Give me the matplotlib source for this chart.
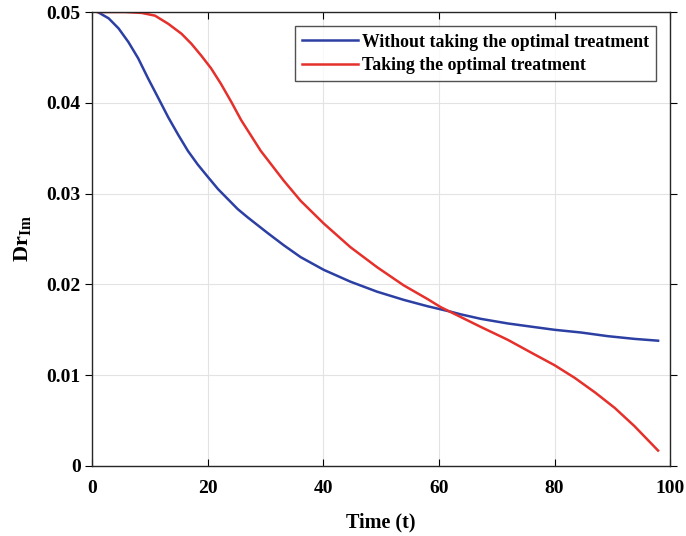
import numpy as np
import matplotlib.pyplot as plt

plt.rcParams['font.family'] = ['Liberation Serif', 'DejaVu Serif']
plt.rcParams['font.weight'] = 'bold'
plt.rcParams['mathtext.fontset'] = 'custom'
plt.rcParams['mathtext.rm'] = 'Liberation Serif:bold'
plt.rcParams['mathtext.it'] = 'Liberation Serif:bold'
plt.rcParams['mathtext.bf'] = 'Liberation Serif:bold'

# values
t_blue = [1.0, 2.9, 4.6, 6.3, 8.0, 9.7, 11.5, 13.2, 14.9, 16.6, 18.3, 20.1,
          21.8, 23.5, 25.2, 26.9, 28.7, 30.3, 33.2, 36.1, 40.1, 44.7, 49.3,
          53.9, 58.0, 62.0, 63.8, 67.3, 71.9, 76.5, 80.0, 84.6, 89.2, 93.8, 97.9]
dr_without = [0.0500, 0.0493, 0.0482, 0.0467, 0.0449, 0.0427, 0.0405, 0.0384,
              0.0365, 0.0347, 0.0332, 0.0318, 0.0305, 0.0294, 0.0283, 0.0274,
              0.0265, 0.0257, 0.0243, 0.0230, 0.0216, 0.0203, 0.0192, 0.0183,
              0.0176, 0.0170, 0.0167, 0.0162, 0.0157, 0.0153, 0.0150, 0.0147,
              0.0143, 0.0140, 0.0138]

t_red = [1.0, 5.7, 8.6, 10.9, 13.2, 15.5, 17.2, 18.9, 20.6, 22.3, 24.1, 25.8,
         27.5, 29.2, 30.9, 33.2, 36.1, 40.1, 44.7, 49.3, 53.9, 58.0, 60.3,
         63.8, 67.3, 71.9, 76.5, 80.0, 83.5, 87.0, 90.4, 93.8, 97.9]
dr_with = [0.0500, 0.0500, 0.0499, 0.0496, 0.0487, 0.0476, 0.0465, 0.0452,
           0.0438, 0.0421, 0.0401, 0.0381, 0.0364, 0.0347, 0.0333, 0.0314,
           0.0292, 0.0267, 0.0241, 0.0219, 0.0199, 0.0184, 0.0175, 0.0164,
           0.0153, 0.0139, 0.0123, 0.0111, 0.0097, 0.0081, 0.0064, 0.0044,
           0.0017]

xticks = [0, 20, 40, 60, 80, 100]
yticks = [0, 0.01, 0.02, 0.03, 0.04, 0.05]
ytick_labels = ['0', '0.01', '0.02', '0.03', '0.04', '0.05']

fig = plt.figure(figsize=(6.86, 5.36), dpi=100)
ax = fig.add_axes([0.134, 0.1306, 0.843, 0.847])

ax.plot(t_blue, dr_without, color='#2c3fa3', lw=1.8,
        label='Without taking the optimal treatment')
ax.plot(t_red, dr_with, color='#e5302b', lw=1.8,
        label='Taking the optimal treatment')

ax.set_xlim(0, 100)
ax.set_ylim(0, 0.05)
ax.set_xticks(xticks)
ax.set_yticks(yticks)
ax.set_yticklabels(ytick_labels)
ax.tick_params(axis='x', direction='in', top=True, length=5, labelsize=14, pad=10)
ax.tick_params(axis='y', direction='out', right=True, length=5, labelsize=14, pad=3)
ax.grid(True, color='#e3e3e3', lw=0.8)
for s in ax.spines.values():
    s.set_color('#262626')
    s.set_linewidth(1.0)

ax.set_xlabel('Time (t)', fontsize=14.5, fontweight='bold', labelpad=11)
ax.set_ylabel(r'$\mathrm{Dr}_{\mathrm{Im}}$', fontsize=16, labelpad=10)

leg = ax.legend(loc='upper right', bbox_to_anchor=(0.982, 0.976), fontsize=12.8,
                frameon=True, fancybox=False, edgecolor='#262626',
                borderpad=0.4, handlelength=3.1, handletextpad=0.25,
                labelspacing=0.35, borderaxespad=0.2)
leg.get_frame().set_linewidth(1.0)

fig.savefig('out.png', dpi=100)
